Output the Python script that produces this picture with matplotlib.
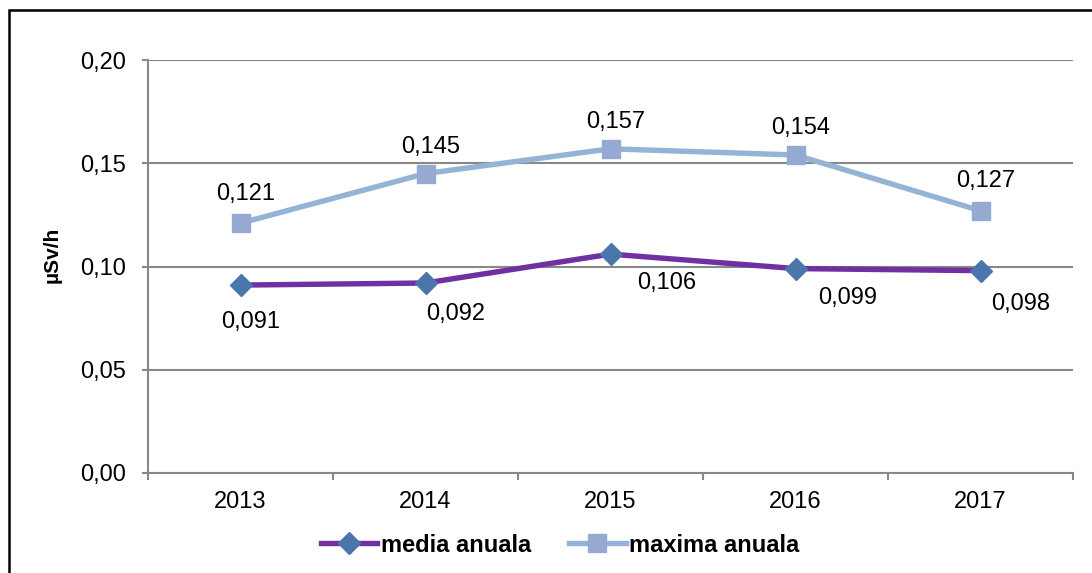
import matplotlib.pyplot as plt
import matplotlib.patches as patches

plt.rcParams['font.family'] = ['Liberation Sans', 'DejaVu Sans']

years = ['2013', '2014', '2015', '2016', '2017']
media = [0.091, 0.092, 0.106, 0.099, 0.098]
maxima = [0.121, 0.145, 0.157, 0.154, 0.127]

# label offsets in pixels (x, y)
media_off = [(10, -37), (30, -31), (56, -29), (52, -29), (40, -33)]
maxima_off = [(5, 29), (5, 27), (5, 27), (5, 27), (5, 30)]

def fmt(v, nd):
    return ('%.*f' % (nd, v)).replace('.', ',')

fs = 17

fig = plt.figure(figsize=(10.92, 5.73), dpi=100)
ax = fig.add_axes([148 / 1092, 1 - 473 / 573, 925 / 1092, 413 / 573])

x = list(range(len(years)))
ax.plot(x, media, color='#7030A0', lw=3.9, marker='D', ms=11,
        mfc='#4A76AC', mec='#4A76AC', label='media anuala', zorder=3)
ax.plot(x, maxima, color='#95B3D7', lw=3.9, marker='s', ms=13.5,
        mfc='#95A9D3', mec='#95A9D3', label='maxima anuala', zorder=3)

for i, v in enumerate(media):
    ax.annotate(fmt(v, 3), (i, v), xytext=media_off[i], textcoords='offset pixels',
                ha='center', va='center', fontsize=fs)
for i, v in enumerate(maxima):
    ax.annotate(fmt(v, 3), (i, v), xytext=maxima_off[i], textcoords='offset pixels',
                ha='center', va='center', fontsize=fs)

ax.set_xlim(-0.5, len(years) - 0.5)
ax.set_ylim(0, 0.20)
ax.set_xticks(x)
ax.set_xticklabels(years, fontsize=fs)
ax.set_xticks([i - 0.5 for i in range(len(years) + 1)], minor=True)
ax.tick_params(axis='x', which='major', length=0, pad=13)
ax.tick_params(axis='x', which='minor', length=5, width=1.5, color='#888888', direction='out')
ax.set_yticks([0, 0.05, 0.10, 0.15, 0.20])
ax.set_yticklabels([fmt(t, 2) for t in [0, 0.05, 0.10, 0.15, 0.20]], fontsize=fs)
ax.tick_params(axis='y', length=4, width=1.5, color='#888888', pad=12)
ax.grid(axis='y', color='#888888', lw=1.5)
ax.set_axisbelow(True)
for s in ['top', 'right']:
    ax.spines[s].set_visible(False)
for s in ['left', 'bottom']:
    ax.spines[s].set_color('#888888')
    ax.spines[s].set_linewidth(1.5)
ax.set_ylabel('µSv/h', fontsize=15, fontweight='bold')
ax.yaxis.set_label_coords((62 - 148) / 925, (473 - 255) / 413)

fig.legend(loc='center', bbox_to_anchor=(560 / 1092, 1 - 545 / 573), ncol=2, frameon=False,
           prop={'size': fs, 'weight': 'bold'}, handlelength=2.4, handletextpad=0.15,
           columnspacing=1.6)

fig.patches.append(patches.Rectangle((8.5 / 1092, -0.05), 1.2, 1 - 10 / 573 + 0.05,
                                     transform=fig.transFigure, fill=False,
                                     edgecolor='black', lw=1.8, clip_on=False))

fig.savefig('out.png', dpi=100)
